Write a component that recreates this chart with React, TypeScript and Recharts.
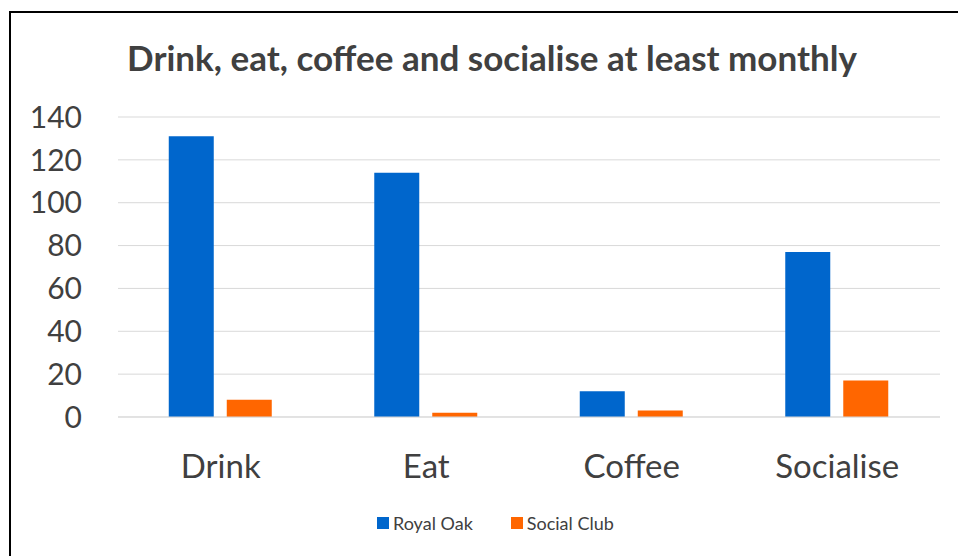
import React from "react";
import { BarChart, Bar, XAxis, YAxis, CartesianGrid } from "recharts";

const categories = ["Drink", "Eat", "Coffee", "Socialise"];
const royalOak = [131, 114, 12, 77];
const socialClub = [8, 2, 3, 17];
const yTicks = [0, 20, 40, 60, 80, 100, 120, 140];

const data = categories.map((c, i) => ({
  name: c,
  "Royal Oak": royalOak[i],
  "Social Club": socialClub[i],
}));

const FONT = "Lato, 'Noto Sans', sans-serif";
const TEXT = "#404040";
const BLUE = "#0066CC";
const ORANGE = "#FF6600";

export default function App() {
  return (
    <div
      style={{
        position: "fixed",
        left: 0,
        top: 0,
        width: 958,
        height: 556,
        background: "#fff",
        overflow: "hidden",
        fontFamily: FONT,
      }}
    >
      <div
        style={{
          position: "absolute",
          left: 9,
          top: 11,
          width: 1000,
          height: 600,
          borderLeft: "2.5px solid #000",
          borderTop: "2.5px solid #000",
        }}
      />
      <div
        style={{
          position: "absolute",
          left: 0,
          width: 984,
          top: 35,
          textAlign: "center",
          fontSize: 35,
          fontWeight: 700,
          color: TEXT,
          lineHeight: "44px",
        }}
      >
        Drink, eat, coffee and socialise at least monthly
      </div>
      <div style={{ position: "absolute", left: 0, top: 0 }}>
        <BarChart
          width={958}
          height={556}
          data={data}
          margin={{ top: 117, right: 18, bottom: 0, left: 0 }}
          barCategoryGap="24.7%"
          barGap={13}
        >
          <CartesianGrid vertical={false} stroke="#d9d9d9" strokeWidth={1} />
          <XAxis
            dataKey="name"
            height={139}
            axisLine={{ stroke: "#d9d9d9" }}
            tickLine={false}
            tickSize={0}
            tickMargin={38}
            tick={{ fontSize: 33, fill: TEXT, fontFamily: FONT }}
          />
          <YAxis
            width={118}
            domain={[0, 140]}
            ticks={yTicks}
            axisLine={false}
            tickLine={false}
            tickSize={0}
            tickMargin={36}
            tick={{ fontSize: 30, fill: TEXT, fontFamily: FONT }}
          />
          <Bar dataKey="Royal Oak" fill={BLUE} isAnimationActive={false} />
          <Bar dataKey="Social Club" fill={ORANGE} isAnimationActive={false} />
        </BarChart>
      </div>
      <div
        style={{
          position: "absolute",
          top: 512,
          left: 377,
          display: "flex",
          alignItems: "center",
          fontSize: 18,
          color: TEXT,
        }}
      >
        <span style={{ width: 12, height: 12, background: BLUE, marginRight: 4 }} />
        <span style={{ marginRight: 38 }}>Royal Oak</span>
        <span style={{ width: 12, height: 12, background: ORANGE, marginRight: 4 }} />
        <span>Social Club</span>
      </div>
    </div>
  );
}
